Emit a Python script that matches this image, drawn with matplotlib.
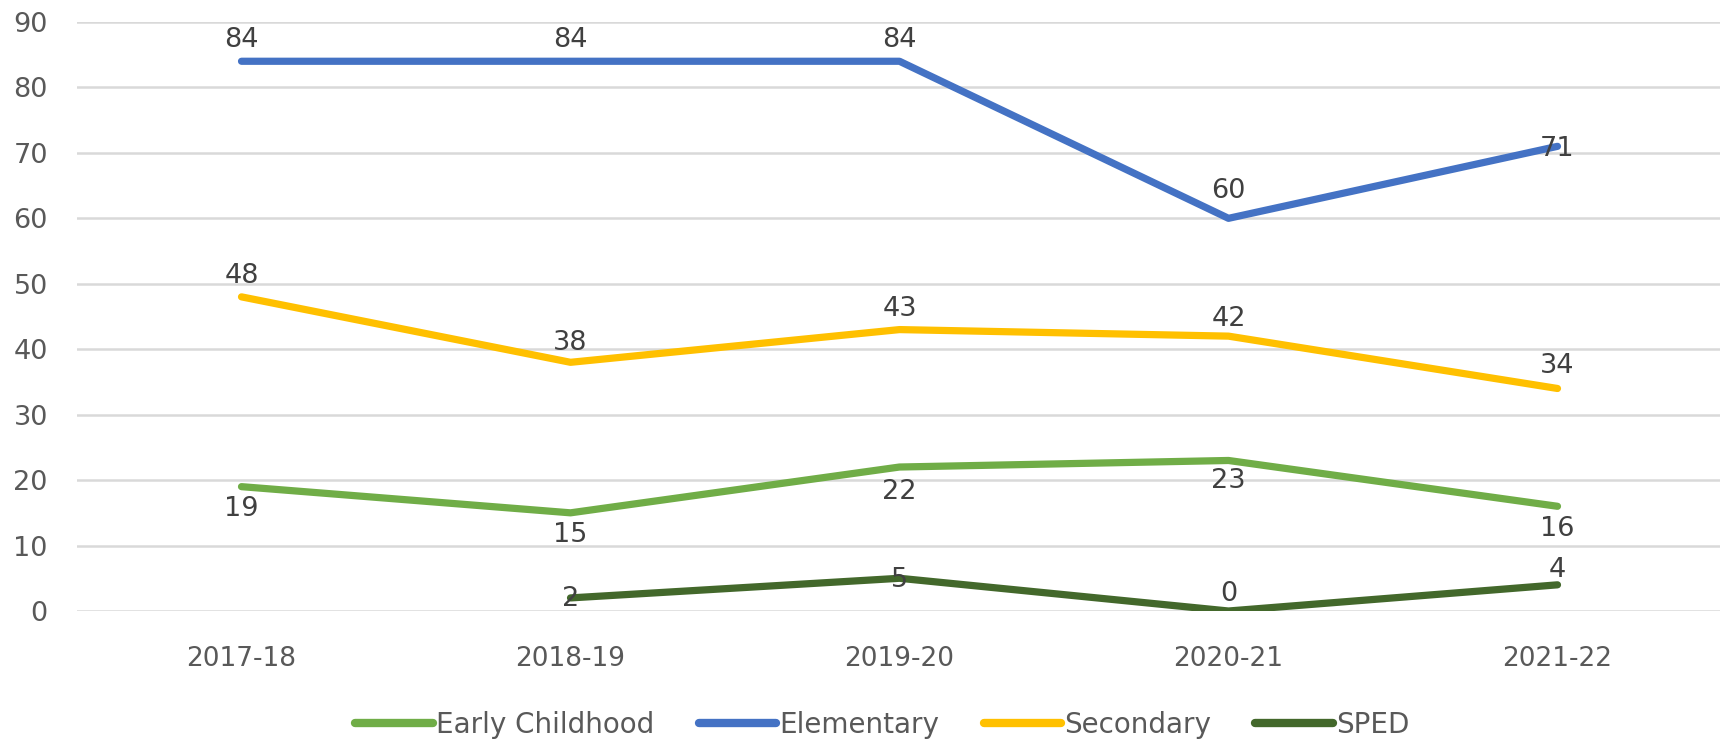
import numpy as np
import matplotlib.pyplot as plt

# data
years = ['2017-18', '2018-19', '2019-20', '2020-21', '2021-22']
early_childhood = [19, 15, 22, 23, 16]
elementary = [84, 84, 84, 60, 71]
secondary = [48, 38, 43, 42, 34]
sped = [np.nan, 2, 5, 0, 4]

series = [
    ('Early Childhood', early_childhood, '#70AD47'),
    ('Elementary', elementary, '#4472C4'),
    ('Secondary', secondary, '#FFC000'),
    ('SPED', sped, '#43682B'),
]
# vertical offset (points) of each series' value labels
label_offsets = {
    'Early Childhood': [-16, -16, -18, -15, -16],
    'Elementary': [15, 15, 15, 20, -2],
    'Secondary': [15, 14, 15, 12, 16],
    'SPED': [0, -1, -1, 12, 11],
}

fig = plt.figure(figsize=(17.2, 7.48), dpi=100)
ax = fig.add_axes([77 / 1720, 137 / 748, 5 * 329 / 1720, 589 / 748])

x = np.arange(len(years))
for name, vals, color in series:
    vals = np.array(vals, dtype=float)
    ax.plot(x, vals, color=color, lw=5.2, solid_capstyle='round',
            solid_joinstyle='round', label=name, zorder=3)
    for xi, v, dy in zip(x, vals, label_offsets[name]):
        if np.isnan(v):
            continue
        ax.annotate(f'{v:.0f}', (xi, v), xytext=(0, dy), textcoords='offset points',
                    ha='center', va='center', fontsize=19.5, color='#404040', zorder=4)

ax.set_xlim(-0.5, len(years) - 0.5)
ax.set_ylim(0, 90)
ax.set_yticks(np.arange(0, 91, 10))
ax.set_xticks(x)
ax.set_xticklabels(years)
ax.yaxis.grid(True, color='#D9D9D9', lw=1.8)
ax.set_axisbelow(True)
for s in ax.spines.values():
    s.set_visible(False)
ax.tick_params(axis='y', length=0, pad=21, labelsize=19.5, labelcolor='#595959')
ax.tick_params(axis='x', length=0, pad=25.5, labelsize=19, labelcolor='#595959')

leg = fig.legend(loc='center', bbox_to_anchor=(0.513, 23 / 748), ncol=4, frameon=False,
                 fontsize=20, handlelength=2.8, handletextpad=0.1, columnspacing=1.6,
                 labelcolor='#595959')
for h in leg.get_lines():
    h.set_linewidth(6)
    h.set_solid_capstyle('round')

fig.savefig('out.png', dpi=100)
